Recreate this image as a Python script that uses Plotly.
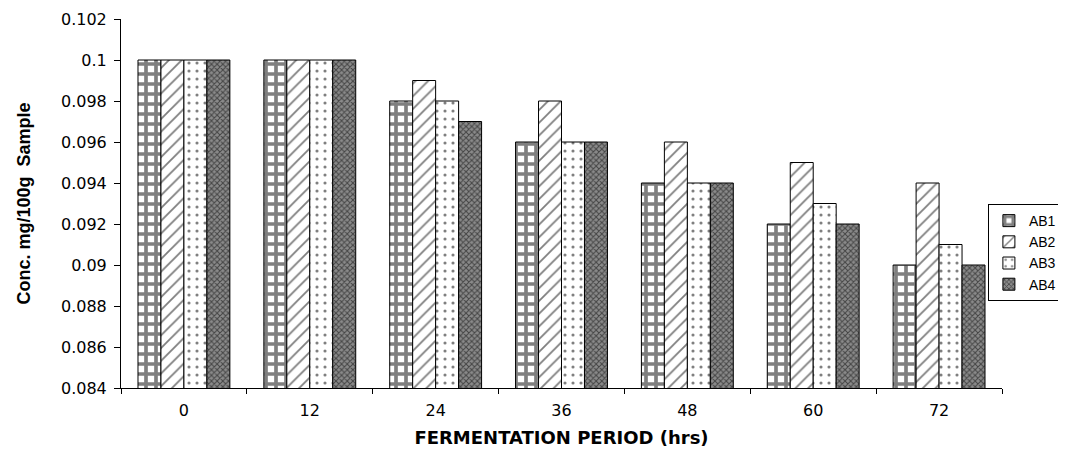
import plotly.graph_objects as go

categories = ["0", "12", "24", "36", "48", "60", "72"]
ab1 = [0.100, 0.100, 0.098, 0.096, 0.094, 0.092, 0.090]
ab2 = [0.100, 0.100, 0.099, 0.098, 0.096, 0.095, 0.094]
ab3 = [0.100, 0.100, 0.098, 0.096, 0.094, 0.093, 0.091]
ab4 = [0.100, 0.100, 0.097, 0.096, 0.094, 0.092, 0.090]
y_tickvals = [0.084, 0.086, 0.088, 0.090, 0.092, 0.094, 0.096, 0.098, 0.100, 0.102]
y_ticktext = ["0.084", "0.086", "0.088", "0.09", "0.092", "0.094", "0.096", "0.098", "0.1", "0.102"]

series = [
    ("AB1", ab1, dict(shape="+", fgcolor="black", bgcolor="white", size=10, solidity=0.6)),
    ("AB2", ab2, dict(shape="/", fgcolor="black", bgcolor="white", size=9, solidity=0.2)),
    ("AB3", ab3, dict(shape=".", fgcolor="black", bgcolor="white", size=8, solidity=0.12)),
    ("AB4", ab4, dict(shape="x", fgcolor="black", bgcolor="#8a8a8a", size=4, solidity=0.45)),
]

fig = go.Figure()
for name, vals, pat in series:
    fig.add_trace(go.Bar(
        x=categories, y=vals, name=name,
        marker=dict(color="white", pattern=pat, line=dict(color="black", width=1)),
    ))

tick_font = "DejaVu Sans, Verdana, sans-serif"
title_font = "Liberation Sans, Arial, sans-serif"
fig.update_layout(
    width=1058, height=443,
    margin=dict(l=113, r=64, t=11, b=63, autoexpand=False),
    paper_bgcolor="white", plot_bgcolor="white",
    barmode="group", bargap=0.27, bargroupgap=0,
    font=dict(family=tick_font, size=16, color="black"),
    showlegend=True,
    legend=dict(
        x=0.984, y=0.4986, xanchor="left", yanchor="top",
        bordercolor="black", borderwidth=1, bgcolor="white",
        font=dict(size=14, family=title_font),
        tracegroupgap=0, itemwidth=30,
    ),
    xaxis=dict(
        title=dict(text="<b>FERMENTATION PERIOD (hrs)</b>",
                   font=dict(size=18, family=tick_font), standoff=12),
        showline=True, linecolor="black", linewidth=1,
        ticks="outside", ticklen=5, tickcolor="black", tickson="boundaries",
        ticklabelstandoff=8,
        showgrid=False, zeroline=False,
        tickfont=dict(size=16, family=tick_font),
    ),
    yaxis=dict(
        title=dict(text="<b>Conc. mg/100g  Sample</b>",
                   font=dict(size=18, family=title_font), standoff=25),
        range=[0.084, 0.102],
        tickvals=y_tickvals, ticktext=y_ticktext,
        showline=True, linecolor="black", linewidth=1,
        ticks="outside", ticklen=6, tickcolor="black",
        ticklabelstandoff=4,
        showgrid=False, zeroline=False,
        tickfont=dict(size=16, family=tick_font),
    ),
)

fig.write_html("out.html")
